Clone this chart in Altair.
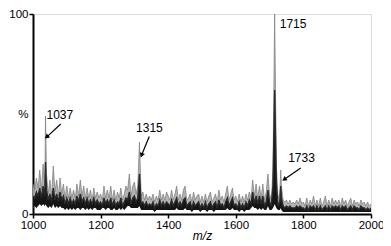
import altair as alt
import pandas as pd

# m/z grid (step 5) and the spectrum envelope (% intensity)
mz_grid = list(range(1000, 2001, 5))

hi = [
    # 1000-1095
    15, 12, 18, 13, 22, 12, 25, 14, 20, 10, 17, 9, 24, 11, 17, 9, 18, 10, 15, 8,
    # 1100-1195
    14, 8, 13, 8, 12, 8, 15, 9, 17, 9, 14, 8, 13, 8, 12, 7, 13, 8, 11, 8,
    # 1200-1295
    10, 7, 14, 8, 12, 8, 14, 7, 12, 7, 11, 8, 13, 7, 10, 14, 12, 20, 9, 14,
    # 1300-1395
    16, 10, 14, 20, 9, 11, 7, 10, 7, 9, 7, 10, 6, 9, 7, 12, 7, 10, 7, 11,
    # 1400-1495
    9, 7, 12, 7, 10, 14, 7, 10, 7, 12, 14, 7, 8, 10, 6, 11, 7, 9, 10, 6,
    # 1500-1595
    9, 6, 10, 6, 9, 11, 6, 8, 10, 6, 12, 7, 9, 6, 10, 14, 7, 10, 13, 7,
    # 1600-1695
    9, 6, 10, 6, 9, 6, 10, 7, 11, 8, 17, 9, 15, 8, 14, 8, 15, 7, 11, 20,
    # 1700-1795
    10, 7, 22, 60, 24, 8, 10, 14, 7, 6, 7, 5, 7, 5, 6, 5, 7, 5, 8, 5,
    # 1800-1895
    6, 4, 8, 4, 7, 5, 9, 4, 7, 4, 8, 4, 6, 9, 4, 7, 4, 8, 5, 7,
    # 1900-2000
    5, 7, 4, 8, 5, 7, 4, 6, 8, 4, 7, 5, 6, 4, 7, 5, 6, 4, 6, 4, 5,
]

mid = [
    9, 8, 11, 9, 13, 8, 14, 9, 12, 7, 10, 6, 13, 7, 10, 6, 11, 7, 9, 5,
    8, 5, 8, 5, 7, 5, 9, 6, 10, 6, 8, 5, 8, 5, 7, 5, 8, 5, 7, 5,
    6, 4, 8, 5, 7, 5, 8, 4, 7, 4, 6, 5, 8, 4, 6, 8, 7, 11, 5, 8,
    9, 6, 8, 12, 5, 6, 4, 6, 4, 5, 4, 6, 3, 5, 4, 7, 4, 6, 4, 6,
    5, 4, 7, 4, 6, 8, 4, 6, 4, 7, 8, 4, 5, 6, 3, 6, 4, 5, 6, 3,
    5, 3, 6, 3, 5, 6, 3, 5, 6, 3, 7, 4, 5, 3, 6, 8, 4, 6, 8, 4,
    5, 3, 6, 3, 5, 3, 6, 4, 7, 5, 11, 5, 9, 5, 9, 5, 9, 4, 6, 12,
    6, 4, 14, 40, 15, 4, 6, 8, 4, 3, 4, 3, 4, 3, 3, 3, 4, 3, 4, 3,
    3, 2, 4, 2, 4, 3, 4, 2, 4, 2, 4, 2, 3, 4, 2, 4, 2, 4, 3, 4,
    3, 4, 2, 4, 3, 4, 2, 3, 4, 2, 4, 3, 3, 2, 4, 3, 3, 2, 3, 2, 3,
]

lo = [
    3, 4, 3, 4, 5, 4, 5, 4, 4, 3, 4, 3, 5, 3, 4, 3, 4, 3, 3, 2,
    3, 2, 3, 2, 3, 2, 3, 3, 2, 3, 3, 2, 3, 2, 3, 2, 3, 3, 2, 2,
    2, 3, 3, 2, 3, 3, 2, 2, 3, 2, 2, 3, 2, 3, 2, 3, 4, 4, 3, 3,
    3, 3, 3, 4, 2, 2, 2, 2, 2, 2, 2, 2, 1, 2, 2, 2, 2, 2, 2, 2,
    2, 2, 2, 2, 2, 3, 2, 2, 2, 2, 3, 2, 2, 2, 1, 2, 2, 2, 2, 1,
    2, 2, 2, 1, 2, 2, 2, 1, 2, 2, 2, 2, 2, 2, 2, 3, 2, 2, 3, 2,
    2, 2, 1, 2, 2, 1, 2, 2, 2, 3, 4, 3, 3, 2, 3, 2, 3, 2, 2, 4,
    2, 2, 3, 4, 3, 2, 2, 2, 1, 1, 1, 1, 1, 1, 1, 1, 1, 1, 1, 1,
    1, 1, 1, 1, 1, 1, 1, 1, 1, 1, 1, 1, 1, 1, 1, 1, 1, 1, 1, 1,
    1, 1, 1, 1, 1, 1, 1, 1, 1, 1, 1, 1, 1, 1, 1, 1, 1, 1, 1, 1, 1,
]

# labelled peaks
peak_mz = [1037, 1315, 1715, 1733]
peak_hi = [49, 36, 100, 22]
peak_mid = [26, 20, 62, 14]
peak_lo = [5, 4, 5, 3]
peak_labels = ["1037", "1315", "1715", "1733"]

# annotation placement (data coordinates)
label_x = [1040, 1305, 1730, 1755]
label_y = [49.5, 43, 94.8, 27.8]
arrow_x = [1082, 1344, None, 1792]
arrow_y = [45, 38.7, None, 23]
arrow_x2 = [1042, 1322, None, 1745]
arrow_y2 = [38.7, 29.7, None, 17.5]
arrow_angle = [229, 200, None, 235]

rows = {}
for m, h, md, l in zip(mz_grid, hi, mid, lo):
    rows[m] = (h, md, l)
for m, h, md, l in zip(peak_mz, peak_hi, peak_mid, peak_lo):
    rows[m] = (h, md, l)
spec = pd.DataFrame(
    [{"mz": m, "hi": v[0], "mid": v[1], "lo": v[2]} for m, v in sorted(rows.items())]
)

ann = pd.DataFrame({"x": label_x, "y": label_y, "text": peak_labels})
arr = pd.DataFrame(
    {"x": arrow_x, "y": arrow_y, "x2": arrow_x2, "y2": arrow_y2, "angle": arrow_angle}
).dropna()

FONT = "Liberation Sans"

xs = alt.Scale(domain=[1000, 2000], nice=False, zero=False)
ys = alt.Scale(domain=[0, 100], nice=False)

x_axis = alt.Axis(
    values=[1000, 1200, 1400, 1600, 1800, 2000], format="d", grid=False,
    domainColor="black", domainWidth=2, tickColor="black", tickWidth=1.5,
    tickSize=4, labelFontSize=11.5, labelFont=FONT, labelColor="black",
    labelPadding=1, title="m/z", titleFont=FONT, titleFontSize=12,
    titleFontStyle="italic", titleFontWeight="normal", titlePadding=0,
    titleColor="black", labelFlush=False,
)
y_axis = alt.Axis(
    values=[0, 50, 100], grid=False, domainColor="black", domainWidth=2,
    tickColor="black", tickWidth=1.5, tickSize=4,
    tickOpacity={"condition": {"test": "datum.value === 50", "value": 0}, "value": 1},
    labelFontSize=11.5, labelFont=FONT, labelColor="black", labelPadding=1,
    labelExpr="datum.value === 50 ? '%' : datum.label", title=None,
)

base = alt.Chart(spec)
band = base.mark_area(color="#ababab", opacity=0.9, clip=True).encode(
    x=alt.X("mz:Q", scale=xs, axis=x_axis),
    y=alt.Y("lo:Q", scale=ys, axis=y_axis),
    y2="hi:Q",
)
top_line = base.mark_line(color="#7a7a7a", strokeWidth=0.7, clip=True).encode(
    x=alt.X("mz:Q", scale=xs), y=alt.Y("hi:Q", scale=ys)
)
core = base.mark_area(color="#151515", clip=True).encode(
    x=alt.X("mz:Q", scale=xs), y=alt.Y("lo:Q", scale=ys), y2="mid:Q"
)
core_line = base.mark_line(color="#2a2a2a", strokeWidth=1.4, clip=True).encode(
    x=alt.X("mz:Q", scale=xs), y=alt.Y("mid:Q", scale=ys)
)

texts = alt.Chart(ann).mark_text(
    align="left", baseline="middle", font=FONT, fontSize=12, color="black"
).encode(x=alt.X("x:Q", scale=xs), y=alt.Y("y:Q", scale=ys), text="text:N")

arrow_lines = alt.Chart(arr).mark_rule(color="black", strokeWidth=1.2).encode(
    x=alt.X("x:Q", scale=xs), y=alt.Y("y:Q", scale=ys), x2="x2:Q", y2="y2:Q"
)
arrow_heads = alt.Chart(arr).mark_point(
    shape="triangle", filled=True, color="black", size=28, opacity=1
).encode(
    x=alt.X("x2:Q", scale=xs), y=alt.Y("y2:Q", scale=ys),
    angle=alt.Angle("angle:Q", scale=None),
)

chart = (
    alt.layer(band, top_line, core, core_line, texts, arrow_lines, arrow_heads)
    .properties(
        width=338, height=200, autosize="none",
        padding={"left": 25, "top": 6, "right": 12, "bottom": 30},
    )
    .configure_view(stroke=None)
    .configure(background="white")
)

chart.save("out.html", embed_options={"renderer": "svg", "actions": False})
